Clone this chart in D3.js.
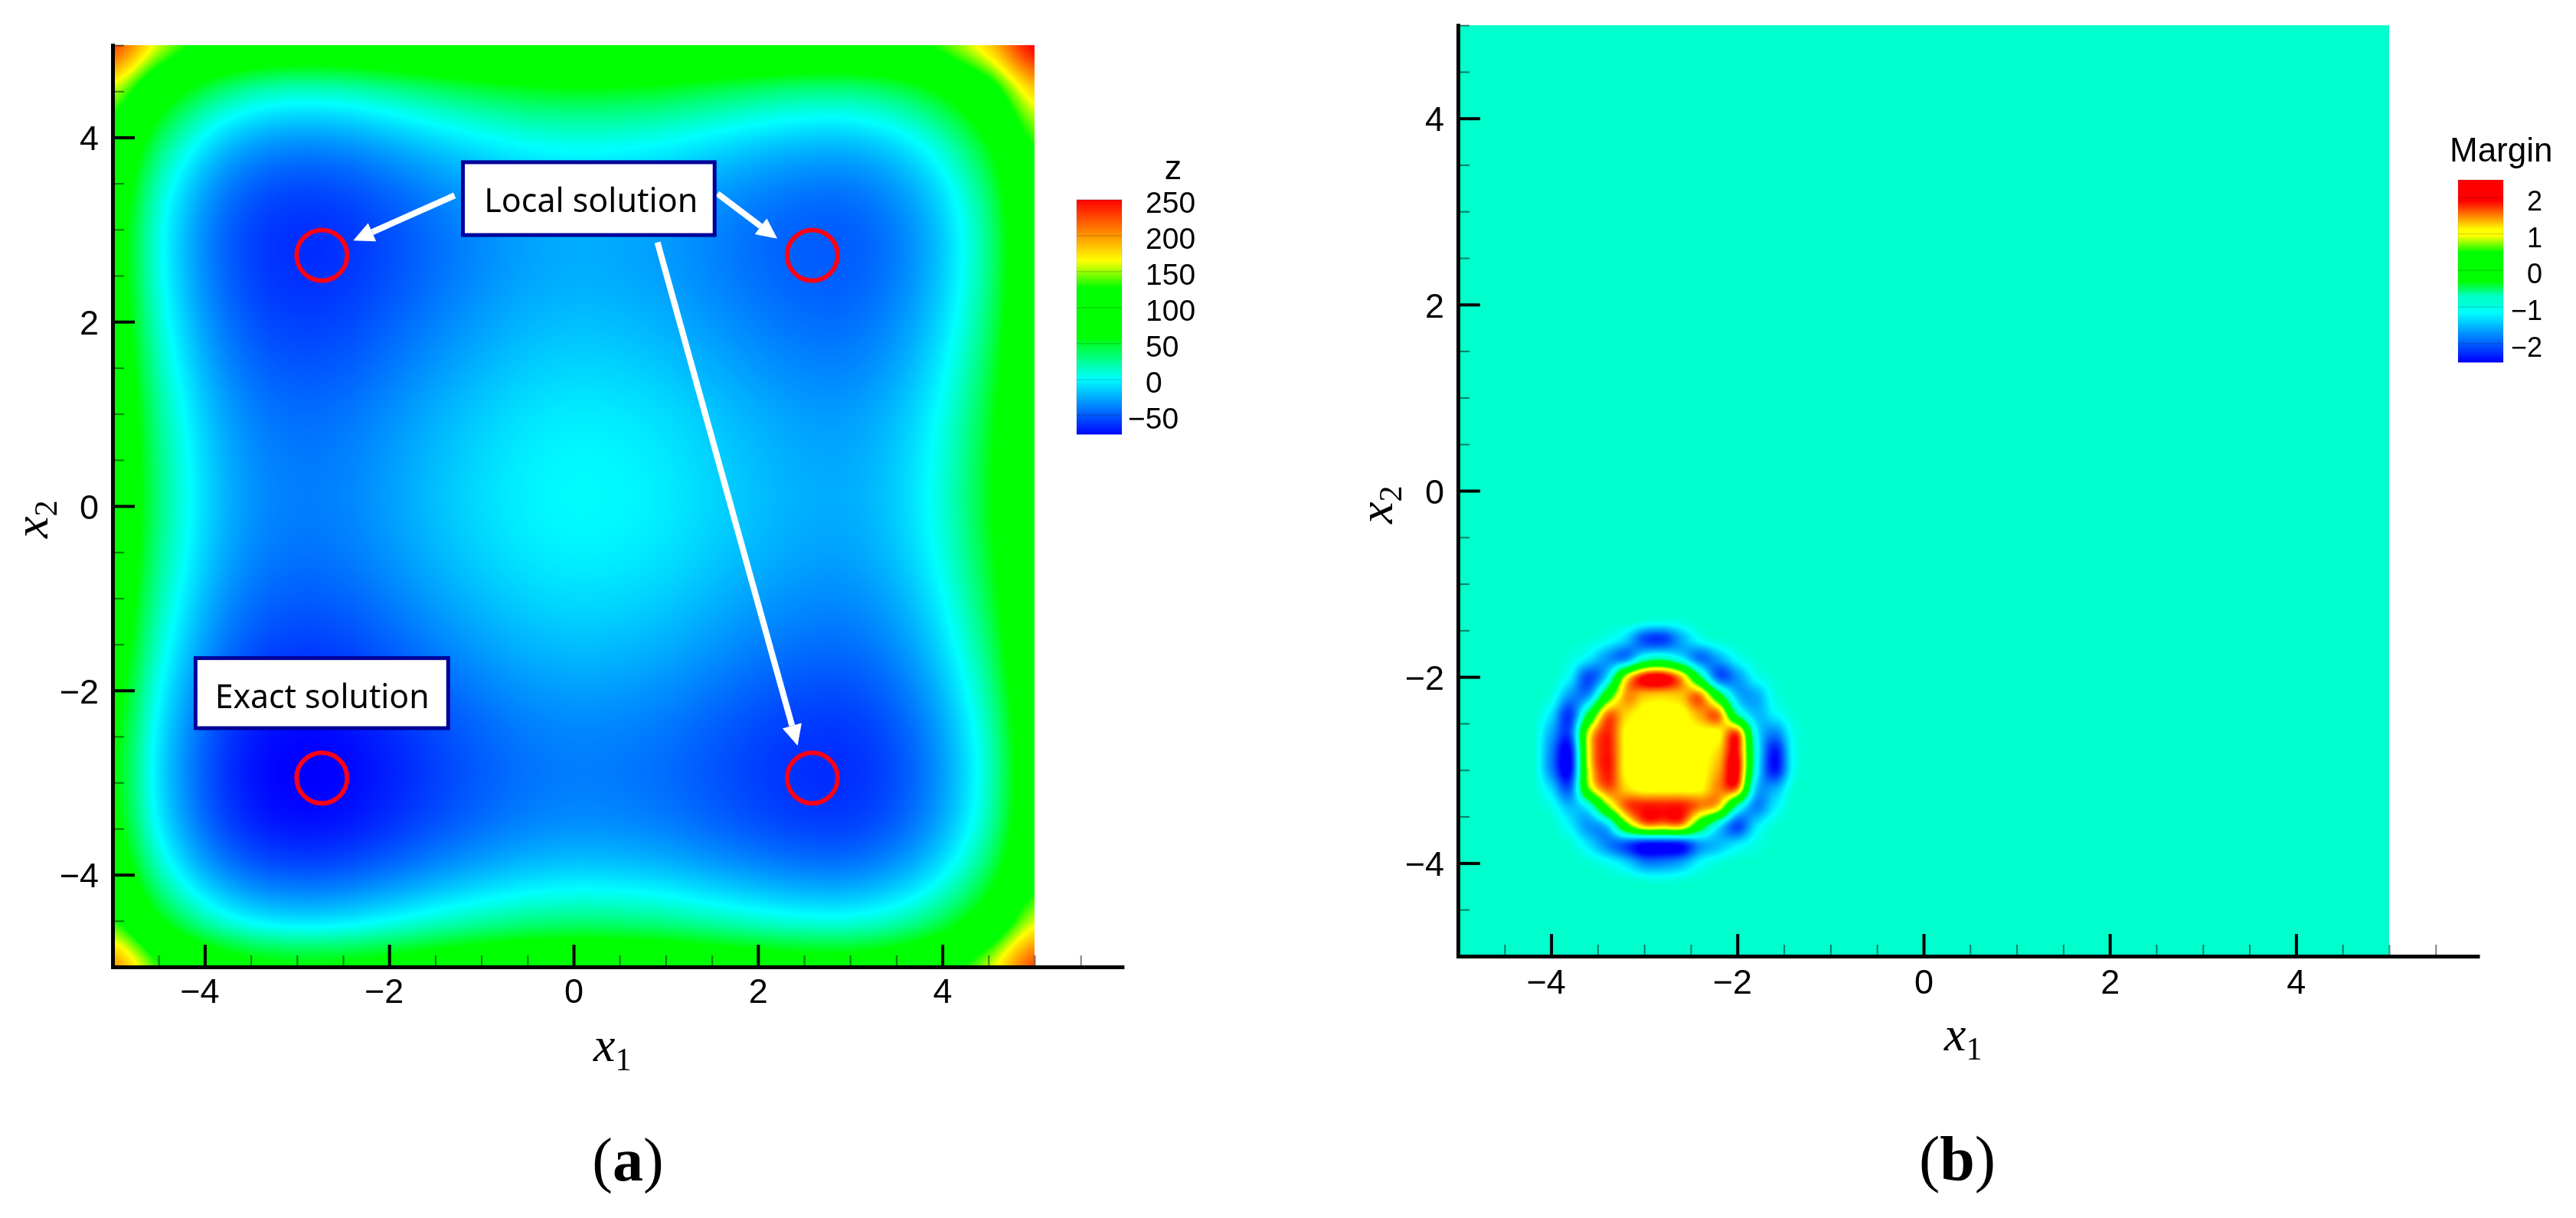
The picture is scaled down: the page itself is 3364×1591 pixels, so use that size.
<!DOCTYPE html>
<html><head><meta charset="utf-8">
<script src="https://cdn.jsdelivr.net/npm/d3@7"></script>
<style>
html,body{margin:0;padding:0;background:#fff;width:3364px;height:1591px;overflow:hidden}
canvas,svg{position:absolute}
svg{left:0;top:0}
text{font-family:"Liberation Sans",Arial,sans-serif;fill:#000}
</style></head><body>
<svg id="chart" width="3364" height="1591"></svg>
<script>
// ---- Panel (a): z on a 0.5 grid
const zX = [-5,-4.5,-4,-3.5,-3,-2.5,-2,-1.5,-1,-0.5,0,0.5,1,1.5,2,2.5,3,3.5,4,4.5,5];
const zY = [5,4.5,4,3.5,3,2.5,2,1.5,1,0.5,0,-0.5,-1,-1.5,-2,-2.5,-3,-3.5,-4,-4.5,-5];
const zValues = [
[225,157,115,93,86,88,96,106,115,122,125,124,120,113,106,101,101,111,135,179,250],
[154,86,44,22,15,17,25,35,44,51,54,53,49,42,35,30,30,40,64,108,179],
[110,42,0,-22,-29,-27,-19,-9,0,7,10,9,5,-2,-9,-14,-14,-4,20,64,135],
[86,18,-24,-46,-53,-51,-43,-33,-24,-17,-14,-15,-19,-26,-33,-38,-38,-28,-4,40,111],
[76,8,-34,-56,-63,-61,-53,-43,-34,-27,-24,-25,-29,-36,-43,-48,-48,-38,-14,30,101],
[76,8,-34,-56,-63,-61,-53,-43,-34,-27,-24,-25,-29,-36,-43,-48,-48,-38,-14,30,101],
[81,13,-29,-51,-58,-56,-48,-38,-29,-22,-19,-20,-24,-31,-38,-43,-43,-33,-9,35,106],
[88,20,-22,-44,-51,-49,-41,-31,-22,-15,-12,-13,-17,-24,-31,-36,-36,-26,-2,42,113],
[95,27,-15,-37,-44,-42,-34,-24,-15,-8,-5,-6,-10,-17,-24,-29,-29,-19,5,49,120],
[99,31,-11,-33,-40,-38,-30,-20,-11,-4,-1,-2,-6,-13,-20,-25,-25,-15,9,53,124],
[100,32,-10,-32,-39,-37,-29,-19,-10,-3,0,-1,-5,-12,-19,-24,-24,-14,10,54,125],
[97,29,-13,-35,-42,-40,-32,-22,-13,-6,-3,-4,-8,-15,-22,-27,-27,-17,7,51,122],
[90,22,-20,-42,-49,-47,-39,-29,-20,-13,-10,-11,-15,-22,-29,-34,-34,-24,0,44,115],
[81,13,-29,-51,-58,-56,-48,-38,-29,-22,-19,-20,-24,-31,-38,-43,-43,-33,-9,35,106],
[71,3,-39,-61,-68,-66,-58,-48,-39,-32,-29,-30,-34,-41,-48,-53,-53,-43,-19,25,96],
[63,-5,-47,-69,-76,-74,-66,-56,-47,-40,-37,-38,-42,-49,-56,-61,-61,-51,-27,17,88],
[61,-7,-49,-71,-78,-76,-68,-58,-49,-42,-39,-40,-44,-51,-58,-63,-63,-53,-29,15,86],
[68,0,-42,-64,-71,-69,-61,-51,-42,-35,-32,-33,-37,-44,-51,-56,-56,-46,-22,22,93],
[90,22,-20,-42,-49,-47,-39,-29,-20,-13,-10,-11,-15,-22,-29,-34,-34,-24,0,44,115],
[132,64,22,0,-7,-5,3,13,22,29,32,31,27,20,13,8,8,18,42,86,157],
[200,132,90,68,61,63,71,81,90,97,100,99,95,88,81,76,76,86,110,154,225]
];
const zTicks = [250,200,150,100,50,0,-50];
const zStops = [-78,1,60,127,165,250];
const zColors = ["#0000ff","#00ffff","#00ff00","#00ff00","#ffff00","#ff0000"];

// ---- Panel (b): Margin; everything outside this window is the flat background
const marginBackground = -0.85;
const marginX = [-4.4,-4.2,-4,-3.8,-3.6,-3.4,-3.2,-3,-2.8,-2.6,-2.4,-2.2,-2,-1.8,-1.6,-1.4,-1.2];
const marginY = [-1.2,-1.4,-1.6,-1.8,-2,-2.2,-2.4,-2.6,-2.8,-3,-3.2,-3.4,-3.6,-3.8,-4,-4.2,-4.4];
const marginValues = [
[-0.85,-0.85,-0.85,-0.85,-0.85,-0.85,-0.85,-0.85,-0.85,-0.85,-0.85,-0.85,-0.85,-0.85,-0.85,-0.85,-0.85],
[-0.85,-0.85,-0.85,-0.85,-0.85,-0.85,-0.85,-0.95,-1.0,-0.95,-0.85,-0.85,-0.85,-0.85,-0.85,-0.85,-0.85],
[-0.85,-0.85,-0.85,-0.85,-0.9,-1.05,-1.4,-2.1,-2.2,-1.6,-1.1,-0.9,-0.85,-0.85,-0.85,-0.85,-0.85],
[-0.85,-0.85,-0.85,-0.95,-1.25,-1.7,-1.8,-0.9,-0.7,-1.2,-1.9,-1.6,-1.1,-0.9,-0.85,-0.85,-0.85],
[-0.85,-0.85,-0.85,-1.2,-2.1,-1.3,0.9,1.9,2.0,1.3,-0.4,-2.0,-1.7,-1.1,-0.9,-0.85,-0.85],
[-0.85,-0.85,-0.95,-1.7,-1.7,0.1,1.4,1.3,1.25,1.3,1.5,-0.1,-1.5,-1.6,-1.0,-0.85,-0.85],
[-0.85,-0.85,-1.3,-2.2,-0.3,1.5,1.25,1.05,1.05,1.05,1.4,1.5,-0.6,-1.5,-1.2,-0.9,-0.85],
[-0.85,-0.85,-1.6,-2.1,0.9,1.8,1.1,1.05,1.05,1.05,1.05,1.1,1.6,-1.1,-1.8,-1.05,-0.85],
[-0.85,-0.85,-1.8,-2.5,1.0,1.85,1.1,1.05,1.05,1.05,1.05,1.25,1.85,-0.9,-2.4,-1.1,-0.85],
[-0.85,-0.85,-1.8,-2.5,0.9,1.85,1.1,1.05,1.05,1.05,1.05,1.4,1.95,-1.0,-2.4,-1.1,-0.85],
[-0.85,-0.85,-1.35,-2.0,0.6,1.6,1.25,1.05,1.05,1.05,1.1,1.5,1.5,-1.4,-1.6,-0.9,-0.85],
[-0.85,-0.85,-1.0,-1.5,-1.1,0.5,1.6,1.85,1.85,1.85,1.5,1.1,-0.8,-1.8,-1.25,-0.85,-0.85],
[-0.85,-0.85,-0.85,-1.2,-1.7,-1.4,0.3,1.3,1.3,1.3,0.0,-1.2,-2.1,-1.3,-0.9,-0.85,-0.85],
[-0.85,-0.85,-0.85,-0.9,-1.3,-1.8,-2.1,-2.5,-2.5,-2.4,-1.7,-1.5,-1.25,-1.0,-0.85,-0.85,-0.85],
[-0.85,-0.85,-0.85,-0.85,-0.9,-1.05,-1.35,-1.8,-1.8,-1.6,-1.15,-0.95,-0.85,-0.85,-0.85,-0.85,-0.85],
[-0.85,-0.85,-0.85,-0.85,-0.85,-0.85,-0.85,-0.9,-0.95,-0.9,-0.85,-0.85,-0.85,-0.85,-0.85,-0.85,-0.85],
[-0.85,-0.85,-0.85,-0.85,-0.85,-0.85,-0.85,-0.85,-0.85,-0.85,-0.85,-0.85,-0.85,-0.85,-0.85,-0.85,-0.85]
];
const marginTicks = [2,1,0,-1,-2];
const marginStops = [-2.5,-1.15,-0.85,-0.72,-0.3,0.5,0.95,1.12,1.9,2.5];
const marginColors = ["#0000ff","#00ffff","#00ffcc","#00ffcc","#00ff00","#00ff00","#ffff00","#ffff00","#ff0000","#ff0000"];

// ---- Annotations of panel (a), in axis units
const localX1 = [-2.73,2.59,2.59], localX2 = [2.72,2.72,-2.95];
const exactX1 = [-2.73], exactX2 = [-2.95];
const arrowFrom = [[-1.29,3.37],[1.56,3.39],[0.91,2.86]];
const arrowTo = [[-2.39,2.88],[2.21,2.90],[2.43,-2.60]];
const majorTicks = [-4,-2,0,2,4];
const minorTicksX = [-4.5,-3.5,-3,-2.5,-1.5,-1,-0.5,0.5,1,1.5,2.5,3,3.5,4.5,5,5.5];
const minorTicksY = [-4.5,-3.5,-3,-2.5,-1.5,-1,-0.5,0.5,1,1.5,2.5,3,3.5,4.5,5];

const svg = d3.select("#chart");

// Catmull-Rom resampling of a value table for the smooth flood
function cr(a,b,c,d,t){return b+0.5*t*(c-a+t*(2*a-5*b+4*c-d+t*(3*(b-c)+d-a)));}
function sampler(grid){
  const n=grid.length,m=grid[0].length;
  return (fx,fy)=>{
    const ix=Math.floor(fx),iy=Math.floor(fy),tx=fx-ix,ty=fy-iy,r=[];
    for(let j=-1;j<=2;j++){
      const row=grid[Math.min(n-1,Math.max(0,iy+j))];
      const g=i=>row[Math.min(m-1,Math.max(0,ix+i))];
      r.push(cr(g(-1),g(0),g(1),g(2),tx));
    }
    return cr(r[0],r[1],r[2],r[3],ty);
  };
}
function flood(x,y,gx,gy,grid,color,bg){
  const x0=x(-5),x1=x(5),y0=y(5),y1=y(-5),w=Math.round(x1-x0),h=Math.round(y1-y0);
  const cv=d3.select("body").insert("canvas","svg").attr("width",w).attr("height",h)
    .style("left",x0+"px").style("top",y0+"px").node();
  const ctx=cv.getContext("2d"),img=ctx.createImageData(w,h),s=sampler(grid);
  const [dMin,dMax]=d3.extent(color.domain()),N=2048,lut=[];
  for(let i=0;i<=N;i++){const c=d3.rgb(color(dMin+(dMax-dMin)*i/N));lut.push([c.r,c.g,c.b]);}
  const fxS=d3.scaleLinear().domain([gx[0],gx[gx.length-1]]).range([0,gx.length-1]);
  const fyS=d3.scaleLinear().domain([gy[0],gy[gy.length-1]]).range([0,gy.length-1]);
  const gxMin=gx[0],gxMax=gx[gx.length-1],gyMax=gy[0],gyMin=gy[gy.length-1];
  let k=0;
  for(let j=0;j<h;j++){
    const dy=y.invert(y0+j+0.5);
    for(let i=0;i<w;i++){
      const dx=x.invert(x0+i+0.5);
      let v=bg;
      if(bg===undefined||(dx>=gxMin&&dx<=gxMax&&dy>=gyMin&&dy<=gyMax)) v=s(fxS(dx),fyS(dy));
      const t=Math.max(0,Math.min(N,Math.round((v-dMin)/(dMax-dMin)*N)));
      const c=lut[t];
      img.data[k++]=c[0];img.data[k++]=c[1];img.data[k++]=c[2];img.data[k++]=255;
    }
  }
  ctx.putImageData(img,0,0);
}

function axes(x,y,opt){
  const bottom=y(-5),left=x(-5);
  const fmt=d3.format("d");
  const gx=svg.append("g").attr("transform",`translate(0,${bottom})`);
  const minorX=gx.append("g").call(d3.axisBottom(x).tickValues(minorTicksX).tickSize(-opt.minorLen).tickFormat(""));
  minorX.selectAll(".tick line").attr("stroke","rgba(0,0,0,0.5)").attr("stroke-width",2);
  minorX.select(".domain").remove();
  const majorX=gx.append("g").call(d3.axisBottom(x).tickValues(majorTicks).tickSize(-opt.majorLen).tickSizeOuter(0).tickPadding(opt.padX).tickFormat(fmt));
  majorX.select(".domain").attr("stroke","#000").attr("stroke-width",5).attr("stroke-linecap","square");
  majorX.selectAll(".tick line").attr("stroke","#000").attr("stroke-width",4);
  majorX.selectAll("text").style("font-size","45px").attr("dx",d=>d<0?-7:0);

  const gy=svg.append("g").attr("transform",`translate(${left},0)`);
  const minorY=gy.append("g").call(d3.axisLeft(y).tickValues(minorTicksY).tickSize(-opt.minorLen).tickFormat(""));
  minorY.selectAll(".tick line").attr("stroke","rgba(0,0,0,0.5)").attr("stroke-width",2);
  minorY.select(".domain").remove();
  const majorY=gy.append("g").call(d3.axisLeft(y).tickValues(majorTicks).tickSize(-opt.majorLen).tickSizeOuter(0).tickPadding(18).tickFormat(fmt));
  majorY.select(".domain").attr("stroke","#000").attr("stroke-width",5).attr("stroke-linecap","square");
  majorY.selectAll(".tick line").attr("stroke","#000").attr("stroke-width",4);
  majorY.selectAll("text").style("font-size","45px").attr("dy","0.36em");
}

function mathLabel(g,sub){
  const t=g.append("text").style("font-family",'"Liberation Serif",serif');
  t.append("tspan").text("x").style("font-size","64px").style("font-style","italic");
  t.append("tspan").text(sub).attr("dy",12).style("font-size","42px");
  return t;
}

function legend(title,ticks,stops,colors,opt){
  const color=d3.scaleLinear().domain(stops).range(colors);
  const s=d3.scaleLinear().domain(opt.domain).range(opt.range);
  const g=svg.append("g");
  g.selectAll("rect.c").data(d3.range(opt.range[0],opt.range[1],1)).join("rect").attr("class","c")
    .attr("x",opt.x).attr("width",opt.w).attr("y",d=>d).attr("height",1.5)
    .attr("fill",d=>color(s.invert(d+0.5)));
  g.append("g").selectAll("line").data(ticks).join("line")
    .attr("x1",opt.x).attr("x2",opt.x+opt.w).attr("y1",d=>s(d)).attr("y2",d=>s(d))
    .attr("stroke","rgba(0,0,0,0.14)").attr("stroke-width",1.5);
  g.append("rect").attr("x",opt.x).attr("y",opt.range[0]).attr("width",opt.w).attr("height",opt.range[1]-opt.range[0])
    .attr("fill","none").attr("stroke","rgba(0,0,0,0.12)").attr("stroke-width",1);
  g.append("g").selectAll("text").data(ticks).join("text")
    .attr("x",d=>d<0?opt.tx-opt.minus:opt.tx).attr("y",d=>s(d)+opt.dy)
    .style("font-size",opt.fs+"px").text(d3.format("d"));
  g.append("text").attr("x",opt.titleX).attr("y",opt.titleY).attr("text-anchor",opt.anchor)
    .style("font-size",opt.titleFs+"px").text(title);
}

// ---- Panel (a)
const xa=d3.scaleLinear().domain([-5,5.95]).range([147,1465.4]);
const ya=d3.scaleLinear().domain([-5,5]).range([1263,59]);
flood(xa,ya,zX,zY,zValues,d3.scaleLinear().domain(zStops).range(zColors));
axes(xa,ya,{minorLen:15,majorLen:29,padX:15});

const ringsA=svg.append("g");
ringsA.selectAll("circle").data(localX1.map((d,i)=>[d,localX2[i]]).concat(exactX1.map((d,i)=>[d,exactX2[i]])))
  .join("circle").attr("cx",d=>xa(d[0])).attr("cy",d=>ya(d[1])).attr("r",33)
  .attr("fill","none").attr("stroke","#ff0016").attr("stroke-width",6);

const arrows=svg.append("g");
arrowFrom.forEach((f,i)=>{
  const x0=xa(f[0]),y0=ya(f[1]),x1=xa(arrowTo[i][0]),y1=ya(arrowTo[i][1]);
  const a=Math.atan2(y1-y0,x1-x0),hl=27,hw=13;
  const bx=x1-hl*Math.cos(a),by=y1-hl*Math.sin(a);
  arrows.append("line").attr("x1",x0).attr("y1",y0).attr("x2",bx).attr("y2",by)
    .attr("stroke","#fff").attr("stroke-width",8);
  arrows.append("path").attr("fill","#fff")
    .attr("d",d3.line()([[x1,y1],[bx-hw*Math.sin(a),by+hw*Math.cos(a)],[bx+hw*Math.sin(a),by-hw*Math.cos(a)]])+"Z");
});

function noteBox(label,xl,xr,yt,yb,tx,ty,len){
  const g=svg.append("g");
  g.append("rect").attr("x",xa(xl)).attr("y",ya(yt)).attr("width",xa(xr)-xa(xl)).attr("height",ya(yb)-ya(yt))
    .attr("fill","#fff").attr("stroke","#000099").attr("stroke-width",5);
  g.append("text").attr("x",xa(tx)).attr("y",ya(ty)).attr("textLength",len).attr("lengthAdjust","spacingAndGlyphs")
    .style("font-family",'"Noto Sans",sans-serif').style("font-size","43px").text(label);
}
noteBox("Local solution",-1.2,1.53,3.73,2.94,-0.97,3.19,279);
noteBox("Exact solution",-4.1,-1.36,-1.65,-2.41,-3.89,-2.19,280);

mathLabel(svg.append("g").attr("transform","translate(775,1386)"),"1");
mathLabel(svg.append("g").attr("transform","translate(62,703) rotate(-90)"),"2");
legend("z",zTicks,zStops,zColors,{domain:[250,-76],range:[261,567],x:1406,w:59,tx:1496,minus:23,fs:39,dy:17,titleX:1532,titleY:234,anchor:"middle",titleFs:45});

const capA=svg.append("text").attr("x",820).attr("y",1542).attr("text-anchor","middle").style("font-family",'"Liberation Serif",serif').style("font-size","80px");
capA.append("tspan").text("(");capA.append("tspan").text("a").style("font-weight","bold");capA.append("tspan").text(")");

// ---- Panel (b)
const xb=d3.scaleLinear().domain([-5,5.95]).range([1904,3235.5]);
const yb=d3.scaleLinear().domain([-5,5]).range([1249,33]);
flood(xb,yb,marginX,marginY,marginValues,d3.scaleLinear().domain(marginStops).range(marginColors),marginBackground);
axes(xb,yb,{minorLen:15,majorLen:29,padX:17});
mathLabel(svg.append("g").attr("transform","translate(2539,1372)"),"1");
mathLabel(svg.append("g").attr("transform","translate(1818,684) rotate(-90)"),"2");
legend("Margin",marginTicks,marginStops,marginColors,{domain:[2.48,-2.5],range:[235,472.5],x:3210,w:59,tx:3300,minus:21,fs:36,dy:17,titleX:3199,titleY:211,anchor:"start",titleFs:44});

const capB=svg.append("text").attr("x",2556).attr("y",1541).attr("text-anchor","middle").style("font-family",'"Liberation Serif",serif').style("font-size","82px");
capB.append("tspan").text("(");capB.append("tspan").text("b").style("font-weight","bold");capB.append("tspan").text(")");
</script>
</body></html>
